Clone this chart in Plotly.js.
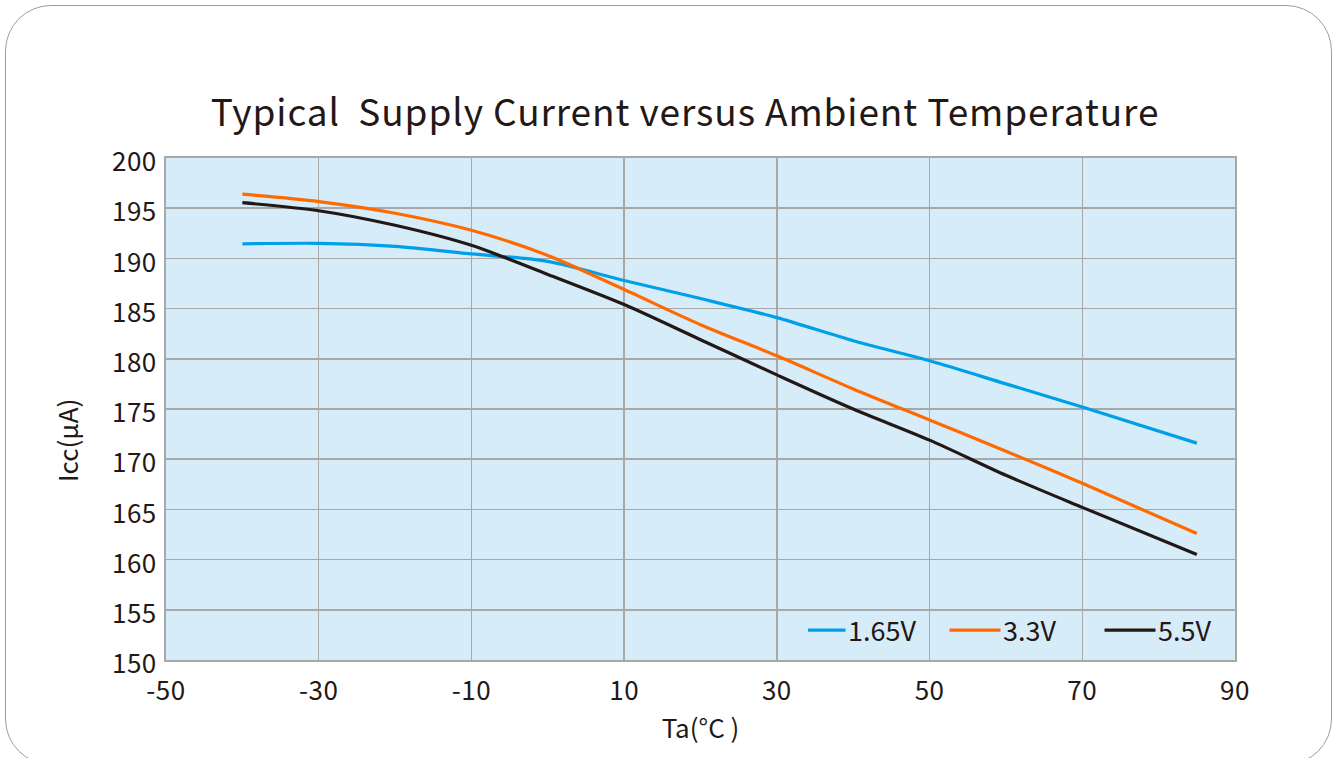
<!DOCTYPE html>
<html>
<head>
<meta charset="utf-8">
<script src="https://cdn.plot.ly/plotly-3.0.1.min.js"></script>
<style>
  html, body { margin: 0; padding: 0; background: #ffffff; overflow: hidden; }
  #chart { position: absolute; left: 0; top: 0; width: 1335px; height: 758px; }
  #frame { position: absolute; left: 5px; top: 5px; width: 1327px; height: 760px;
           border: 1.5px solid #9c9c9c; border-radius: 46px; pointer-events: none; box-sizing: border-box; }
  .gtitle { letter-spacing: 0.9px; }
  .xtick text, .ytick text { letter-spacing: 0.5px; }
  .legend .legendlines path { transform: translate(-22px, 0px) scaleX(1.7); }
</style>
</head>
<body>
<div id="chart"></div>
<div id="frame"></div>
<script>
// Temperature (°C)
const temps = [-40, -30, -20, -10, 0, 10, 20, 30, 40, 50, 60, 70, 85];
// Supply current Icc (µA) per supply voltage
const icc165 = [191.45, 191.5, 191.2, 190.45, 189.7, 187.8, 186.0, 184.1, 181.8, 179.8, 177.5, 175.2, 171.6];
const icc33  = [196.4, 195.66, 194.5, 192.8, 190.3, 186.9, 183.4, 180.3, 177.0, 173.9, 170.8, 167.6, 162.6];
const icc55  = [195.55, 194.75, 193.3, 191.3, 188.4, 185.4, 181.9, 178.4, 175.0, 171.9, 168.4, 165.2, 160.5];
const seriesNames = ['1.65V', '3.3V', '5.5V'];
const seriesColors = ['#00A0E9', '#FF6A00', '#231815'];
const xTicks = [-50, -30, -10, 10, 30, 50, 70, 90];
const yTicks = [150, 155, 160, 165, 170, 175, 180, 185, 190, 195, 200];

const FONT = '"Noto Sans CJK SC", "Noto Sans", sans-serif';
const TXT = '#231815';

const ys = [icc165, icc33, icc55];
const traces = ys.map((y, i) => ({
  x: temps, y: y, type: 'scatter', mode: 'lines', name: seriesNames[i],
  line: { color: seriesColors[i], width: 3.2, shape: 'spline', smoothing: 0.8 }
}));

const layout = {
  width: 1335, height: 758,
  margin: { l: 166, r: 100, t: 158, b: 98 },
  paper_bgcolor: 'rgba(0,0,0,0)',
  plot_bgcolor: '#D6ECF8',
  font: { family: FONT, color: TXT, size: 26 },
  title: {
    text: 'Typical\u00a0 Supply Current versus Ambient Temperature',
    font: { family: FONT, size: 37, color: TXT },
    xref: 'container', x: 685 / 1335, xanchor: 'center',
    yref: 'container', y: 1 - 113 / 758, yanchor: 'middle'
  },
  xaxis: {
    range: [-50, 90], tickvals: xTicks, ticktext: xTicks.map(String),
    showgrid: true, gridcolor: '#A8A8A8', gridwidth: 1.5,
    showline: true, linecolor: '#A8A8A8', linewidth: 2, mirror: true,
    zeroline: false, ticks: '', ticklabelstandoff: 7,
    tickfont: { family: FONT, size: 26, color: TXT },
    title: { text: 'Ta(°C )', font: { family: FONT, size: 26, color: TXT }, standoff: 14 }
  },
  yaxis: {
    range: [150, 200], tickvals: yTicks, ticktext: yTicks.map(String),
    showgrid: true, gridcolor: '#A8A8A8', gridwidth: 1.5,
    showline: true, linecolor: '#A8A8A8', linewidth: 2, mirror: true,
    zeroline: false, ticks: '', ticklabelstandoff: 2, ticklabelshift: 4,
    tickfont: { family: FONT, size: 26, color: TXT }
  },
  annotations: [{
    text: 'Icc(μA)', textangle: -90, showarrow: false,
    xref: 'paper', yref: 'paper',
    x: (66 - 166) / (1235 - 166), y: (660 - 441) / (660 - 158),
    xanchor: 'center', yanchor: 'middle',
    font: { family: FONT, size: 26, color: TXT }
  }],
  legend: {
    orientation: 'h', x: (808 - 166) / (1235 - 166), xanchor: 'left', y: 0.01, yanchor: 'bottom',
    bgcolor: 'rgba(0,0,0,0)', borderwidth: 0,
    font: { family: FONT, size: 27, color: TXT },
    traceorder: 'normal', entrywidth: 110, entrywidthmode: 'pixels'
  },
  showlegend: true
};

Plotly.newPlot('chart', traces, layout, { staticPlot: true, displayModeBar: false });
</script>
</body>
</html>
